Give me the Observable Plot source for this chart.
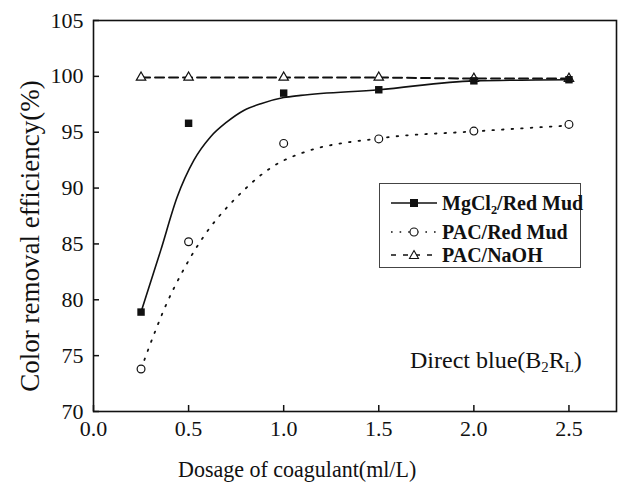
<!DOCTYPE html>
<html>
<head>
<meta charset="utf-8">
<script src="https://cdn.jsdelivr.net/npm/d3@7"></script>
<script src="https://cdn.jsdelivr.net/npm/@observablehq/plot@0.6"></script>
<style>
  body { margin: 0; background: #fff; }
  #wrap { position: relative; width: 622px; height: 485px; font-family: "Liberation Serif", "Times New Roman", serif; color: #111; }
  #wrap svg.plot { position: absolute; left: 0; top: 0; }
  .ov { position: absolute; white-space: nowrap; }
  sub { font-size: 0.62em; vertical-align: -0.3em; line-height: 0; }
</style>
</head>
<body>
<div id="wrap"></div>
<script>
// ---- data ----
const dosage = [0.25, 0.5, 1.0, 1.5, 2.0, 2.5];
const mgcl2RedMud = [78.9, 95.8, 98.5, 98.8, 99.6, 99.7];
const pacRedMud = [73.8, 85.2, 94.0, 94.4, 95.1, 95.7];
const pacNaOH = [99.9, 99.9, 99.9, 99.9, 99.8, 99.8];

// fitted curves as drawn in the reference
const mgFitX = [0.25, 0.353, 0.44, 0.528, 0.616, 0.70, 0.79, 0.88, 1.0, 1.09, 1.5, 2.0, 2.5];
const mgFitY = [78.9, 84.4, 89.2, 92.5, 94.6, 95.9, 96.95, 97.55, 98.1, 98.3, 98.8, 99.6, 99.7];
const pacFitX = [0.25, 0.326, 0.388, 0.458, 0.542, 0.61, 0.69, 0.784, 0.883, 0.98, 1.09, 1.5, 2.0, 2.5];
const pacFitY = [73.8, 77.25, 79.8, 82.2, 84.7, 86.4, 88.05, 89.7, 91.2, 92.3, 93.1, 94.45, 95.07, 95.6];

const xTicks = [0.0, 0.5, 1.0, 1.5, 2.0, 2.5];
const yTicks = [70, 75, 80, 85, 90, 95, 100, 105];
const seriesNames = ["MgCl2/Red Mud", "PAC/Red Mud", "PAC/NaOH"];
const xTitle = "Dosage of coagulant(ml/L)";
const yTitle = "Color removal efficiency(%)";

const pts = (ys) => dosage.map((x, i) => ({x, y: ys[i]}));
const fit = (xs, ys) => xs.map((x, i) => ({x, y: ys[i]}));

const font = '"Liberation Serif", "Times New Roman", serif';

const chart = Plot.plot({
  width: 622,
  height: 485,
  marginLeft: 93,
  marginTop: 20,
  marginRight: 6,
  marginBottom: 74,
  style: {fontFamily: font, fontSize: "22px", color: "#111", background: "white"},
  x: {domain: [0, 2.75]},
  y: {domain: [70, 105]},
  marks: [
    Plot.axisX(xTicks, {tickSize: 0, tickPadding: 9, tickFormat: d3.format(".1f"), label: null, fontSize: 22}),
    Plot.axisX(xTicks, {tickSize: -6, tickFormat: () => "", label: null, strokeWidth: 1.5}),
    Plot.axisY(yTicks, {tickSize: 0, tickPadding: 10, label: null, fontSize: 22}),
    Plot.axisY(yTicks, {tickSize: -6, tickFormat: () => "", label: null, strokeWidth: 1.5}),
    Plot.line(fit(mgFitX, mgFitY), {x: "x", y: "y", curve: "monotone-x", stroke: "#111", strokeWidth: 1.6}),
    Plot.line(fit(pacFitX, pacFitY), {x: "x", y: "y", curve: "monotone-x", stroke: "#111", strokeWidth: 1.8, strokeDasharray: "1.6,8", strokeLinecap: "round"}),
    Plot.line(pts(pacNaOH), {x: "x", y: "y", stroke: "#111", strokeWidth: 2, strokeDasharray: "9,5"}),
    Plot.dot(pts(pacNaOH), {x: "x", y: "y", symbol: "triangle", r: 3.5, fill: "white", stroke: "#111", strokeWidth: 1.2}),
    Plot.dot(pts(mgcl2RedMud), {x: "x", y: "y", symbol: "square", r: 4.2, fill: "#111", stroke: "none"}),
    Plot.dot(pts(pacRedMud), {x: "x", y: "y", symbol: "circle", r: 3.9, fill: "white", stroke: "#111", strokeWidth: 1.2}),
    Plot.frame({stroke: "#111", strokeWidth: 1.6})
  ]
});
chart.classList.add("plot");
const wrap = document.getElementById("wrap");
wrap.appendChild(chart);

// axis titles
const xt = document.createElement("div");
xt.className = "ov";
xt.style.cssText = "left:178px; top:455px; font-size:22px; transform-origin: left top; transform: scaleY(1.08);";
xt.textContent = xTitle;
wrap.appendChild(xt);

const yt = document.createElement("div");
yt.className = "ov";
yt.style.cssText = "left:30px; top:236px; font-size:27px; transform: translate(-50%,-50%) rotate(-90deg);";
yt.textContent = yTitle;
wrap.appendChild(yt);

// annotation
const ann = document.createElement("div");
ann.className = "ov";
ann.style.cssText = "left:410px; top:347px; font-size:24px;";
ann.innerHTML = "Direct blue(B<sub>2</sub>R<sub>L</sub>)";
wrap.appendChild(ann);

// legend
const lg = document.createElement("div");
lg.className = "ov";
lg.style.cssText = "left:379px; top:183px; width:202px; height:85px; border:1px solid #444; box-sizing:border-box; background:white;";
const rows = [
  {label: "MgCl<sub>2</sub>/Red Mud", dash: "", sym: '<rect x="19" y="-4" width="8" height="8" fill="#111"/>', top: 7},
  {label: "PAC/Red Mud", dash: "1.6,7", sym: '<circle cx="23" cy="0" r="4" fill="white" stroke="#111" stroke-width="1.1"/>', top: 36},
  {label: "PAC/NaOH", dash: "5,7", sym: '<path d="M23,-4.5 L27.5,3.5 L18.5,3.5 Z" fill="white" stroke="#111" stroke-width="1.1"/>', top: 59}
];
rows.forEach((r, i) => {
  const row = document.createElement("div");
  row.style.cssText = `position:absolute; left:10px; top:${r.top}px; height:24px; display:flex; align-items:center;`;
  row.innerHTML = `<svg width="48" height="20" style="margin-right:4px"><g transform="translate(1,10)"><line x1="0" x2="46" y1="0" y2="0" stroke="#111" stroke-width="1.5" ${r.dash ? `stroke-dasharray="${r.dash}"` : ""}/>${r.sym}</g></svg><span style="font-size:20px; font-weight:bold;">${r.label}</span>`;
  lg.appendChild(row);
});
wrap.appendChild(lg);
</script>
</body>
</html>
